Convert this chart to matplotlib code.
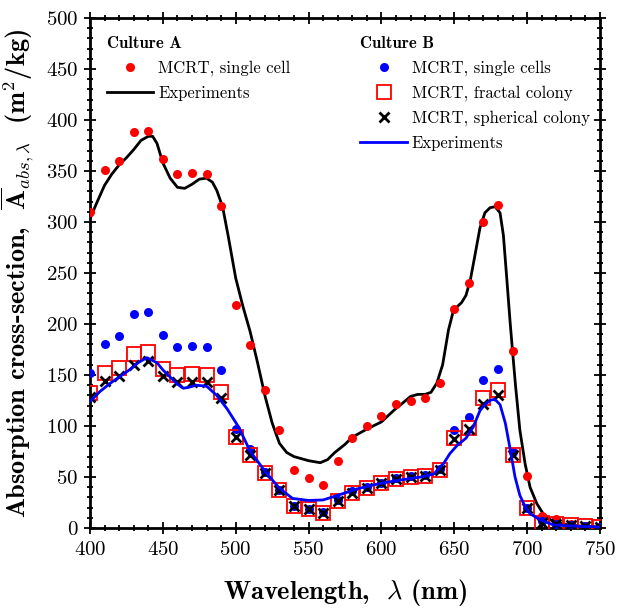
import numpy as np
import matplotlib
matplotlib.use("Agg")
import matplotlib.pyplot as plt
from matplotlib.ticker import MultipleLocator
from matplotlib.lines import Line2D

plt.rcParams['font.family'] = ['cmr10', 'DejaVu Serif']
plt.rcParams['mathtext.fontset'] = 'cm'
plt.rcParams['axes.formatter.use_mathtext'] = True

# MCRT wavelengths
wl = [400, 410, 420, 430, 440, 450, 460, 470, 480, 490, 500, 510, 520, 530, 540, 550,
      560, 570, 580, 590, 600, 610, 620, 630, 640, 650, 660, 670, 680, 690, 700, 710,
      720, 730, 740, 750]
a_single = [310, 351, 360, 388, 389, 362, 347, 348, 347, 316, 219, 179, 135, 96, 57, 49,
            42, 66, 88, 100, 110, 122, 125, 127, 142, 215, 240, 300, 317, 174, 51, 12,
            9, 4, 2, 1]
b_single = [152, 180, 188, 210, 212, 189, 177, 178, 177, 155, 97, 77, 55, 37, 22, 19,
            16, 27, 36, 40, 44, 49, 51, 52, 58, 96, 109, 145, 156, 75, 20, 7,
            4, 3, 2, 1]
b_fractal = [132, 152, 157, 171, 173, 156, 150, 151, 150, 133, 89, 72, 54, 37, 22, 19,
             15, 26, 34, 39, 44, 48, 50, 51, 57, 88, 98, 127, 135, 72, 20, 5,
             4, 3, 2, 1]
b_spherical = [128, 144, 149, 160, 164, 149, 143, 143, 143, 127, 89, 72, 54, 37, 22, 19,
               15, 26, 34, 39, 44, 48, 50, 51, 57, 87, 97, 122, 130, 72, 20, 5,
               4, 3, 2, 1]

# Experimental spectra
wl_exp_a = [400, 402, 405, 410, 415, 420, 425, 430, 435, 440, 443, 446, 450, 455, 460, 465,
            470, 475, 480, 484, 487, 491, 495, 500, 505, 510, 515, 520, 525, 530, 535,
            540, 545, 550, 558, 563, 568, 575, 580, 590, 600, 609, 615, 620, 625, 630,
            634, 638, 642, 646, 649, 652, 655, 658, 661, 664, 667.6, 671, 674.5, 678,
            681.4, 683.7, 686, 688.3, 690, 692, 695, 698.6, 702, 706.6, 711, 718, 725,
            735, 750]
exp_a = [303, 310, 320, 336, 347, 356, 363, 371, 380, 384, 384, 377, 358, 343, 334, 333,
         337, 342, 343, 339, 331, 315, 285, 245, 217, 192, 162, 130, 103, 83, 74,
         70, 68, 66, 64, 67, 74, 82, 89, 97, 104, 116, 123, 129, 131, 131,
         133, 142, 160, 194, 211, 217, 221, 228, 243, 266, 294, 309, 314, 315,
         309, 287, 245, 202, 173, 140, 96, 63, 40, 24, 14, 6, 4,
         2, 1]
wl_exp_b = [400, 407, 414, 420, 427, 433, 439, 446, 450, 455, 460, 464, 468, 473, 480, 487,
            494, 502, 510, 521, 530, 539, 550, 560, 572, 585, 600, 613, 627, 636, 643,
            647, 652, 658, 663, 667.6, 671, 675, 678, 681.4, 685, 688, 691.7, 695, 698.6,
            702, 709, 718, 730, 750]
exp_b = [124, 134, 142, 148, 155, 162, 167, 162, 155, 148, 141, 137, 138, 140, 139, 130,
         117, 99, 75, 54, 39, 29, 27, 27.5, 33, 39, 44, 47, 50, 53, 64,
         73, 81, 88, 99, 115, 121, 125.5, 126, 121, 103, 80, 50, 32, 21,
         14, 8, 3, 2, 1]

fig = plt.figure(figsize=(6.17, 6.09), dpi=100)
ax = fig.add_axes([90 / 617, 81 / 609, 510 / 617, 510 / 609])

ax.plot(wl_exp_a, exp_a, color='black', lw=2, zorder=2)
ax.plot(wl, a_single, 'o', color='#ff0000', ms=6.5, mec='none', zorder=3)
ax.plot(wl, b_single, 'o', color='#0000ff', ms=6.5, mec='none', zorder=3)
ax.plot(wl, b_fractal, 's', mfc='none', mec='#ff0000', ms=10, mew=1.3, zorder=4)
ax.plot(wl, b_spherical, 'x', color='black', ms=7, mew=2, zorder=5)
ax.plot(wl_exp_b, exp_b, color='#0000ff', lw=2, zorder=6)

ax.set_xlim(400, 750)
ax.set_ylim(0, 500)
ax.xaxis.set_major_locator(MultipleLocator(50))
ax.xaxis.set_minor_locator(MultipleLocator(10))
ax.yaxis.set_major_locator(MultipleLocator(50))
ax.yaxis.set_minor_locator(MultipleLocator(10))
ax.tick_params(which='both', direction='inout', top=True, right=True, width=1.3,
               labelsize=15)
ax.tick_params(which='major', length=9)
ax.tick_params(which='minor', length=5)
ax.tick_params(axis='x', which='major', pad=5)
ax.tick_params(axis='y', which='major', pad=4)
for s in ax.spines.values():
    s.set_linewidth(2)

ax.set_xlabel(r'Wavelength,  $\lambda$ (nm)', fontsize=19,
              family=['cmb10', 'DejaVu Serif'], labelpad=13)
ax.set_ylabel(r'Absorption cross-section,  $\overline{\mathbf{A}}_{abs,\lambda}$  (m$^{\mathbf{2}}$/kg)',
              fontsize=19, family=['cmb10', 'DejaVu Serif'], labelpad=8)

h_a = [Line2D([], [], ls='none', marker='o', color='#ff0000', ms=6.5, mec='none'),
       Line2D([], [], color='black', lw=2)]
leg1 = ax.legend(h_a, ['MCRT, single cell', 'Experiments'], loc='upper left',
                 bbox_to_anchor=(0.033, 0.964), frameon=False, fontsize=12,
                 title='Culture A', alignment='left', handlelength=2.8,
                 handletextpad=0.3, labelspacing=0.55, borderpad=0,
                 borderaxespad=0,
                 title_fontproperties={'family': 'cmb10', 'size': 12})
ax.add_artist(leg1)
h_b = [Line2D([], [], ls='none', marker='o', color='#0000ff', ms=6.5, mec='none'),
       Line2D([], [], ls='none', marker='s', mfc='none', mec='#ff0000', ms=10, mew=1.3),
       Line2D([], [], ls='none', marker='x', color='black', ms=7, mew=2),
       Line2D([], [], color='#0000ff', lw=2)]
leg2 = ax.legend(h_b, ['MCRT, single cells', 'MCRT, fractal colony',
                       'MCRT, spherical colony', 'Experiments'], loc='upper left',
                 bbox_to_anchor=(0.53, 0.964), frameon=False, fontsize=12,
                 title='Culture B', alignment='left', handlelength=2.8,
                 handletextpad=0.3, labelspacing=0.55, borderpad=0,
                 borderaxespad=0,
                 title_fontproperties={'family': 'cmb10', 'size': 12})

fig.savefig('out.png', dpi=100)
